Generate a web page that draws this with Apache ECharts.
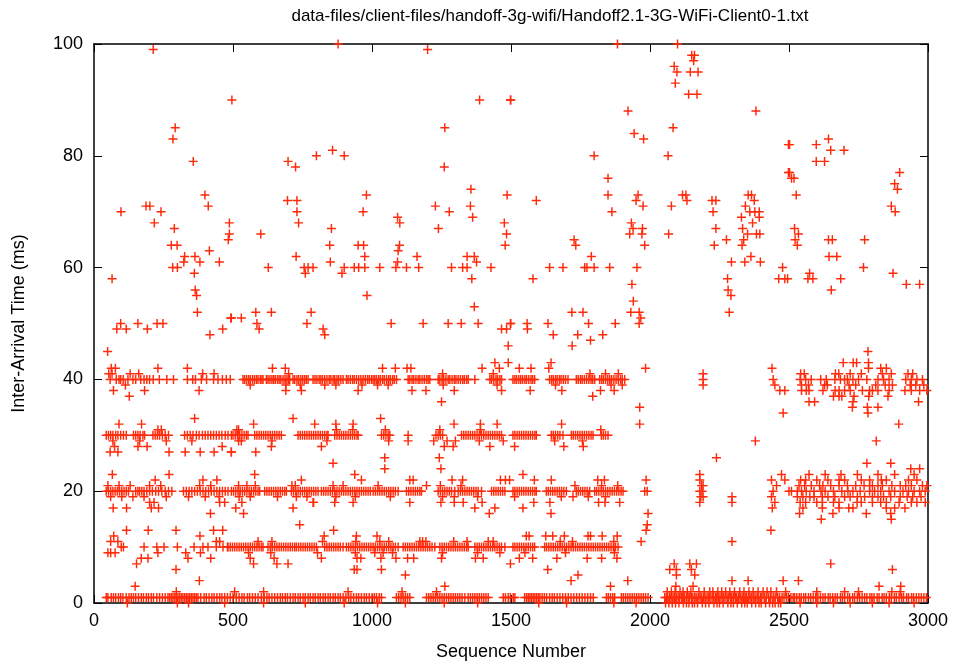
<!DOCTYPE html>
<html>
<head>
<meta charset="utf-8">
<script src="https://cdn.jsdelivr.net/npm/echarts@6/dist/echarts.min.js"></script>
<style>
html,body{margin:0;padding:0;background:#fff;}
#chart{width:956px;height:666px;}
</style>
</head>
<body>
<div id="chart"></div>
<script>
const titleText = 'data-files/client-files/handoff-3g-wifi/Handoff2.1-3G-WiFi-Client0-1.txt';
const xName = 'Sequence Number';
const yName = 'Inter-Arrival Time (ms)';
const xTicks = [0, 500, 1000, 1500, 2000, 2500, 3000];
const yTicks = [0, 20, 40, 60, 80, 100];

// sequence numbers whose inter-arrival time reads 1 ms
const lvl1X = [44,50,62,70,78,88,96,104,116,126,134,142,150,160,170,178,188,196,206,214,226,236,246,256,266,272,278,284,290,296,302,308,314,320,326,332,338,344,350,356,362,368,374,384,396,404,414,424,432,442,452,460,470,480,490,500,
512,522,532,540,552,560,570,580,590,602,612,622,630,640,650,660,670,678,688,696,706,716,724,734,742,752,760,770,778,788,796,806,814,824,832,842,850,860,868,878,886,896,906,916,924,934,944,952,962,972,980,990,1000,
1008,1016,1026,1034,1088,1096,1104,1112,1120,1128,1136,1196,1204,1212,1220,1228,1236,1244,1252,1260,1268,1276,1284,1292,1300,1308,1316,1324,1334,1346,1354,1362,1370,1378,1386,1394,1402,1410,1418,1472,1480,1490,1498,1508,
1514,1549,1556,1562,1568,1574,1580,1586,1592,1598,1604,1612,1620,1628,1639,1648,1656,1666,1676,1686,1696,1706,1716,1726,1736,1746,1756,1766,1776,1786,1796,1843,1850,1858,1866,1873,1897,1904,1912,1920,1928,1936,1944,1952,1960,1968,1976,1984,1993,
2053,2059,2064,2071,2076,2083,2088,2095,2101,2106,2113,2118,2124,2131,2137,2142,2149,2154,2161,2166,2173,2180,2185,2192,2198,2205,2210,2216,2223,2228,2235,2240,2247,2252,2259,2264,2270,2277,2282,2289,2294,2300,2307,2312,2319,2324,2331,2336,2343,2348,2355,2360,2366,2373,2378,2385,2390,2397,2402,2411,2418,2427,2434,2443,2450,2459,2466,2475,2482,2491,2498,2507,2515,
2520,2528,2537,2544,2553,2560,2570,2578,2587,2596,2604,2613,2622,2630,2641,2648,2657,2666,2674,2685,2692,2700,2711,2718,2729,2736,2746,2754,2763,2772,2780,2791,2798,2806,2817,2824,2835,2842,2850,2861,2868,2879,2886,2896,2905,2912,2923,2930,2941,2948,2958,2967,2976,2985,2994];

// sequence numbers whose inter-arrival time reads 0 ms
const lvl0X = [120,300,340,470,610,760,900,1020,1120,1260,1380,1600,1700,1870,1950,2056,2068,2080,2092,2104,2120,2131,2140,2152,2160,2171,2188,2200,2212,2230,2241,2250,2263,2280,2291,2300,2314,2330,2341,2350,2366,2380,2392,2400,2416,2430,2441,2450,2462,2470,2540,2600,2660,2720,2800,2860,2950];

// sequence numbers whose inter-arrival time reads 2 ms
const lvl2X = [296,506,610,914,1108,1232,2062,2077,2090,2108,2119,2134,2147,2176,2195,2215,2226,2244,2258,2272,2287,2304,2323,2338,2356,2371,2389,2407,2421,2435,2455,2488,2600,2700,2750,2870,2900];

// sequence numbers whose inter-arrival time reads 10 ms
const lvl10X = [98,106,180,226,252,300,360,392,410,440,464,480,490,
482,498,506,514,522,530,538,546,554,562,570,578,586,594,602,608,626,634,642,650,658,666,674,682,690,698,706,714,722,728,736,744,752,760,768,776,784,792,800,830,838,846,854,862,870,878,886,896,908,916,924,932,940,948,956,964,972,980,988,996,1004,
1012,1020,1028,1036,1044,1052,1060,1068,1076,1084,1094,1112,1120,1128,1136,1144,1152,1160,1168,1176,1184,1192,1200,1208,1216,1226,1244,1252,1260,1268,1276,1284,1292,1300,1308,1316,1324,1332,1340,1346,1370,1378,1386,1394,1402,1410,1418,1426,1434,1442,1450,1458,1466,1478,
1507,1514,1522,1530,1538,1546,1554,1562,1570,1578,1585,1621,1628,1636,1644,1652,1660,1668,1676,1684,1692,1700,1708,1716,1724,1732,1740,1748,1756,1764,1772,1780,1788,1796,1804,1812,1820,1828,1836,1844,1852,1860,1868,1876,1885];

// sequence numbers whose inter-arrival time reads 20 ms
const lvl20X = [44,52,60,68,76,84,92,100,108,116,124,150,158,164,172,180,190,200,210,222,232,244,256,268,280,322,332,342,352,362,372,382,392,402,412,422,432,442,452,462,472,482,494,
502,510,518,526,534,542,550,558,566,574,582,590,596,614,622,630,638,646,654,662,670,678,686,692,710,718,726,734,742,750,758,766,774,782,790,798,806,818,826,834,842,850,858,866,874,882,890,898,906,914,922,930,938,946,954,962,970,978,986,994,1004,
1012,1020,1028,1036,1044,1052,1060,1068,1076,1084,1094,1124,1132,1140,1148,1156,1164,1172,1178,1238,1246,1254,1262,1270,1278,1286,1298,1310,1318,1326,1334,1342,1350,1358,1366,1374,1382,1394,1430,1438,1446,1454,1462,1470,1478,
1507,1514,1522,1530,1538,1546,1554,1562,1570,1578,1586,1591,1627,1634,1642,1650,1658,1666,1674,1682,1690,1699,1735,1742,1750,1758,1766,1774,1783,1801,1808,1816,1824,1832,1840,1848,1856,1864,1872,1880,1888,1896,1903,1981,1990,
2179,2187,2443,2509,2500,2530,2545,2562,2590,2615,2630,2660,2690,2712,2730,2756,2790,2808,2830,2860,2880,2910,2930,2950,2970,2990];

// sequence numbers whose inter-arrival time reads 30 ms
const lvl30X = [44,52,60,68,78,86,96,106,116,142,150,158,166,176,182,212,220,228,236,246,256,268,326,336,346,356,368,378,390,400,410,420,430,440,450,460,472,482,494,
500,508,516,524,532,540,548,554,578,586,594,602,610,618,626,634,642,650,658,666,674,734,742,750,758,766,774,782,790,798,806,814,822,830,838,842,866,874,882,890,898,906,914,922,930,938,946,950,
1034,1042,1050,1058,1064,1130,1230,1238,1246,1254,1322,1330,1338,1346,1354,1362,1370,1378,1386,1394,1402,1410,1418,1426,1434,1442,1450,1458,1466,
1507,1514,1522,1530,1538,1546,1554,1562,1570,1578,1586,1591,1645,1652,1660,1668,1676,1687,1717,1724,1732,1740,1748,1756,1764,1772,1780,1788,1795,1825,1832,1840,1849];

// sequence numbers whose inter-arrival time reads 40 ms
const lvl40X = [58,80,90,96,105,122,140,150,168,180,190,200,213,235,262,286,336,355,365,386,405,430,446,462,476,490,
536,542,549,556,562,570,577,584,590,598,604,608,620,626,633,640,646,652,660,666,672,680,687,694,700,704,716,722,730,736,744,751,758,764,770,788,795,802,810,816,822,830,838,846,852,860,866,874,880,888,896,908,914,922,930,936,944,952,960,968,976,984,990,998,1004,
1010,1016,1024,1030,1038,1044,1052,1060,1066,1074,1080,1088,1130,1136,1144,1150,1158,1166,1172,1180,1188,1196,1202,1208,1238,1244,1252,1258,1266,1274,1280,1288,1296,1302,1310,1318,1326,1332,1340,1346,1370,1424,1430,1438,1446,1452,1460,1466,
1507,1514,1520,1528,1535,1542,1550,1556,1564,1572,1578,1585,1639,1646,1652,1660,1666,1674,1680,1688,1696,1705,1735,1742,1750,1756,1764,1772,1780,1788,1794,1801,1819,1826,1832,1840,1848,1855,1862,1870,1878,1886,1894,1900,1909,
2191,2443,2540,2560,2580,2614,2634,2665,2685,2700,2710,2730,2750,2780,2820,2840,2860,2920,2940,2960,2980];

// remaining points: [sequence number, inter-arrival ms]
const otherPts = [
[213,99],[496,90],[292,85],[284,83],[357,79],[399,73],[411,71],[97,70],[187,71],[201,71],[241,70],[217,68],[289,67],[487,68],[487,66],[483,65],[278,64],[299,64],[415,63],[326,62],[363,62],[323,61],[381,61],[451,61],[283,60],[300,60],[361,59],[65,58],[364,56],[369,55],[372,52],[494,51],[96,50],[158,50],[227,50],[248,50],[82,49],[116,49],[192,49],[463,49],[417,48],[49,45],
[878,100],[698,79],[725,78],[800,80],[858,81],[900,80],[696,72],[730,72],[730,70],[736,68],[980,73],[968,70],[600,66],[854,67],[848,64],[950,64],[970,64],[727,62],[974,62],[850,61],[627,60],[756,60],[770,60],[788,60],[900,60],[936,60],[952,60],[974,60],[760,59],[892,59],[982,55],[492,51],[530,51],[582,52],[638,52],[781,52],[586,50],[766,50],[594,49],[824,49],[830,48],
[1200,99],[1387,90],[1498,90],[1262,85],[1260,78],[1356,74],[1486,73],[1228,71],[1354,71],[1278,70],[1362,69],[1092,69],[1100,68],[1239,67],[1476,68],[1484,66],[1479,64],[1099,64],[1094,63],[1162,62],[1342,62],[1368,62],[1376,61],[1092,61],[1028,60],[1086,60],[1124,60],[1168,60],[1286,60],[1326,60],[1342,60],[1428,60],[1359,58],[1368,53],[1069,50],[1184,50],[1274,50],[1321,50],[1382,50],[1466,49],[1498,50],[1490,46],[1442,43],[1490,43],[1458,42],[1484,49],
[1883,100],[1499,90],[1921,88],[1943,84],[1977,83],[1799,80],[1849,76],[1849,73],[1957,73],[1950,72],[1975,71],[1591,72],[1863,70],[1933,68],[1939,67],[1927,66],[1973,67],[1971,66],[1981,64],[1727,65],[1733,64],[1789,62],[1639,60],[1687,60],[1765,60],[1773,60],[1799,60],[1855,60],[1953,60],[1579,58],[1935,57],[1940,54],[1719,52],[1759,52],[1931,52],[1961,52],[1967,51],[1499,50],[1633,50],[1779,50],[1875,50],[1961,50],[1559,49],[1558,50],[1652,48],[1740,48],[1830,48],[1786,47],[1720,46],
[2099,100],[2150,98],[2160,98],[2157,97],[2087,96],[2097,95],[2145,95],[2173,95],[2091,93],[2139,91],[2169,91],[2381,88],[2083,85],[2498,82],[2065,80],[2498,77],[2509,76],[2117,73],[2129,73],[2133,72],[2077,71],[2223,72],[2237,72],[2227,70],[2237,67],[2231,64],[2353,73],[2365,73],[2375,72],[2343,71],[2359,70],[2377,70],[2393,70],[2329,69],[2393,69],[2369,68],[2333,67],[2351,66],[2383,66],[2395,66],[2337,65],[2331,64],[2067,66],[2275,65],[2363,62],[2293,61],[2341,61],[2397,61],[2477,60],[2463,58],[2485,58],[2495,58],[2279,58],[2281,56],[2291,55],[2285,52],
[2502,82],[2598,82],[2642,83],[2650,81],[2698,81],[2598,79],[2628,79],[2502,77],[2518,76],[2526,73],[2898,77],[2880,75],[2890,74],[2868,71],[2882,70],[2520,67],[2534,66],[2522,65],[2530,64],[2642,65],[2656,65],[2644,62],[2672,62],[2772,65],[2768,60],[2874,59],[2574,59],[2568,58],[2586,58],[2686,58],[2652,56],[2922,57],[2970,57],
[62,42],[77,42],[230,42],[336,42],[53,41],[65,41],[130,41],[161,41],[391,41],[432,41],[113,39],[70,38],[182,38],[378,38],[127,37],
[90,32],[171,32],[362,33],[230,31],[242,31],[68,29],[164,29],[352,29],[260,29],[74,28],[158,28],[191,28],[461,28],[58,27],[86,27],[270,27],[328,27],[382,27],[432,27],[494,27],
[66,23],[270,23],[220,22],[392,22],[442,22],[50,21],[90,21],[130,21],[200,21],[240,21],[380,21],[420,21],[60,19],[100,19],[140,19],[180,19],[260,19],[340,19],[400,19],[450,19],[200,18],[216,18],[452,18],[470,18],[69,17],[117,17],[206,17],[232,17],[419,16],
[117,13],[195,13],[295,13],[430,13],[463,13],[71,12],[381,12],[60,11],[86,11],[440,11],[452,11],[50,9],[60,9],[76,9],[230,9],[330,9],[383,9],[170,8],[194,8],[338,8],[420,8],[153,7],[295,6],[379,4],[148,3],
[642,42],[688,42],[700,41],[562,39],[690,39],[742,39],[830,39],[870,39],[964,39],[690,38],[746,38],[950,38],
[716,33],[574,32],[794,32],[870,32],[932,32],[514,31],[520,31],[872,31],[930,31],[520,29],[530,29],[640,29],[838,29],[638,28],[818,28],[494,27],[582,27],[860,25],
[578,23],[938,23],[962,22],[746,22],[520,21],[550,21],[580,21],[712,21],[724,21],[860,21],[896,21],[522,19],[562,19],[660,19],[728,19],[766,19],[870,19],[940,19],[532,18],[788,18],[790,18],[866,18],[932,18],[510,17],[716,17],[538,16],[740,14],
[862,13],[828,12],[944,12],[590,11],[640,11],[822,11],[942,11],[556,9],[636,9],[804,9],[940,9],[562,8],[648,8],[818,8],[946,8],[960,8],[574,7],[658,7],[698,7],[936,6],[946,6],
[1038,42],[1084,42],[1126,42],[1140,42],[1396,42],[1254,41],[1436,41],[1020,39],[1058,39],[1256,39],[1450,39],[1144,38],[1194,38],[1296,38],[1466,38],[1250,36],
[1031,33],[1295,32],[1390,32],[1450,32],[1048,31],[1244,31],[1390,31],[1060,29],[1130,29],[1222,29],[1270,29],[1300,29],[1386,29],[1472,29],[1260,28],[1292,28],[1424,28],[1046,26],[1242,26],[1046,24],[1248,24],
[1136,22],[1148,22],[1288,22],[1326,22],[1462,22],[1480,22],[1022,21],[1196,21],[1246,21],[1320,21],[1066,19],[1254,19],[1296,19],[1380,19],[1136,18],[1248,18],[1296,18],[1328,18],[1396,18],[1370,17],[1442,17],[1422,16],
[1018,12],[1028,11],[1060,11],[1172,11],[1182,11],[1194,11],[1294,11],[1342,11],[1418,11],[1436,11],[1010,9],[1040,9],[1074,9],[1254,9],[1380,9],[1460,9],[1032,8],[1086,8],[1128,8],[1150,8],[1250,8],[1372,8],[1400,8],[1498,7],[1034,6],[1120,5],[1262,3],
[1530,42],[1572,42],[1636,42],[1644,43],[1784,41],[1840,41],[1886,41],[1984,42],[1569,38],[1683,38],[1871,38],[1794,37],[1822,38],[1860,39],[1900,39],[1660,39],[1963,35],[1963,32],
[1682,32],[1823,31],[1657,29],[1757,29],[1513,28],[1690,28],[1760,28],
[1543,23],[1495,22],[1584,22],[1645,22],[1812,22],[1836,22],[1986,22],[1730,21],[1826,21],[1884,21],[1513,19],[1681,19],[1723,19],[1778,19],[1840,19],[1582,18],[1640,18],[1815,18],[1838,18],[1891,18],[1543,17],[1644,16],[1993,16],[1990,14],
[1986,13],[1625,12],[1555,12],[1565,12],[1650,12],[1692,12],[1777,12],[1786,12],[1828,12],[1882,12],[1968,11],[1677,11],[1721,11],[1870,11],[1550,9],[1696,9],[1872,9],[1530,8],[1578,8],[1665,8],[1774,8],[1826,8],[1881,8],[1632,6],[1741,5],[1716,4],[1920,4],[1858,3],
[2191,41],[2191,39],[2439,42],[2449,39],[2467,38],[2485,38],[2479,34],[2379,29],[2239,26],
[2179,23],[2179,22],[2191,21],[2185,21],[2191,19],[2183,19],[2179,18],[2295,19],[2295,18],
[2437,22],[2473,23],[2485,22],[2455,21],[2437,19],[2449,18],[2440,17],
[2435,13],[2295,11],[2087,7],[2143,7],[2167,7],[2071,6],[2095,6],[2149,6],[2095,5],[2161,5],[2093,3],[2155,3],[2295,4],[2353,4],[2479,4],
[2784,45],[2695,43],[2731,43],[2743,43],[2786,43],[2786,42],[2830,42],[2850,42],
[2542,41],[2555,41],[2667,41],[2679,41],[2720,41],[2760,41],[2836,41],[2868,41],[2928,41],[2945,41],
[2545,39],[2570,39],[2628,39],[2638,39],[2716,39],[2740,39],[2812,39],[2846,39],[2872,39],[2936,39],[2956,39],[2985,39],
[2545,38],[2562,38],[2572,38],[2622,38],[2666,38],[2680,38],[2700,38],[2720,38],[2764,38],[2790,38],[2800,38],[2820,38],[2860,38],[2917,38],[2940,38],[2970,38],[2996,38],
[2660,37],[2680,37],[2690,37],[2734,37],[2787,37],[2856,37],[2572,36],[2592,36],[2730,36],[2966,36],[2728,35],[2782,35],[2820,35],[2784,34],
[2895,32],[2814,29],[2780,25],[2866,25],[2970,24],[2938,24],
[2572,23],[2630,23],[2687,23],[2746,23],[2820,23],[2880,23],[2950,23],
[2542,22],[2560,22],[2600,22],[2640,22],[2680,22],[2700,22],[2760,22],[2790,22],[2832,22],[2850,22],[2930,22],[2960,22],
[2536,21],[2556,21],[2580,21],[2610,21],[2622,21],[2650,21],[2680,21],[2710,21],[2740,21],[2770,21],[2790,21],[2800,21],[2820,21],[2836,21],[2870,21],[2900,21],[2920,21],[2940,21],[2980,21],[2996,21],
[2530,19],[2550,19],[2575,19],[2590,19],[2620,19],[2640,19],[2665,19],[2700,19],[2720,19],[2746,19],[2772,19],[2800,19],[2820,19],[2840,19],[2866,19],[2900,19],[2925,19],[2945,19],[2975,19],
[2540,18],[2560,18],[2600,18],[2620,18],[2660,18],[2680,18],[2745,18],[2760,18],[2800,18],[2830,18],[2850,18],[2896,18],[2940,18],[2960,18],[2990,18],
[2550,17],[2620,17],[2680,17],[2715,17],[2730,17],[2850,17],[2880,17],[2917,17],[2538,16],[2658,16],[2778,16],[2866,16],[2616,15],[2868,15],
[2650,7],[2872,6],[2534,4],[2824,3],[2902,3]
];

const points = [];
lvl1X.forEach(x => points.push([x, 1]));
lvl0X.forEach(x => points.push([x, 0]));
lvl2X.forEach(x => points.push([x, 2]));
lvl10X.forEach(x => points.push([x, 10]));
lvl20X.forEach(x => points.push([x, 20]));
lvl30X.forEach(x => points.push([x, 30]));
lvl40X.forEach(x => points.push([x, 40]));
otherPts.forEach(p => points.push(p));

const FONT = "'Liberation Sans', Arial, Helvetica, sans-serif";
const plus = 'path://M3.35,0H4.65V3.35H8V4.65H4.65V8H3.35V4.65H0V3.35H3.35Z';

const chart = echarts.init(document.getElementById('chart'), null, {renderer: 'canvas'});
const tickStyle = {show: true, inside: true, length: 8, lineStyle: {color: '#000', width: 1}};
const lineStyle = {show: true, onZero: false, lineStyle: {color: '#000', width: 1.5}};
const plain = v => String(v);
chart.setOption({
  animation: false,
  backgroundColor: '#fff',
  grid: {left: 94, right: 28, top: 44, bottom: 63, show: false},
  graphic: [{
    type: 'text', x: 550, y: 16,
    style: {text: titleText, font: "17px " + FONT, fill: '#000', align: 'center', verticalAlign: 'middle'}
  }],
  xAxis: [{
    type: 'value', min: xTicks[0], max: xTicks[xTicks.length - 1], interval: xTicks[1] - xTicks[0],
    position: 'bottom', name: xName, nameLocation: 'middle', nameGap: 40,
    nameTextStyle: {fontFamily: FONT, fontSize: 18, color: '#000'},
    axisLine: lineStyle, axisTick: tickStyle, splitLine: {show: false},
    axisLabel: {fontFamily: FONT, fontSize: 18, color: '#000', margin: 9, formatter: plain}
  }, {
    type: 'value', min: xTicks[0], max: xTicks[xTicks.length - 1], interval: xTicks[1] - xTicks[0],
    position: 'top', axisLine: lineStyle, axisTick: tickStyle, splitLine: {show: false},
    axisLabel: {show: false}
  }],
  yAxis: [{
    type: 'value', min: yTicks[0], max: yTicks[yTicks.length - 1], interval: yTicks[1] - yTicks[0],
    position: 'left', name: yName, nameLocation: 'middle', nameGap: 66, nameRotate: 90,
    nameTextStyle: {fontFamily: FONT, fontSize: 18, color: '#000'},
    axisLine: lineStyle, axisTick: tickStyle, splitLine: {show: false},
    axisLabel: {fontFamily: FONT, fontSize: 18, color: '#000', margin: 11, formatter: plain}
  }, {
    type: 'value', min: yTicks[0], max: yTicks[yTicks.length - 1], interval: yTicks[1] - yTicks[0],
    position: 'right', axisLine: lineStyle, axisTick: tickStyle, splitLine: {show: false},
    axisLabel: {show: false}
  }],
  series: [{
    type: 'scatter', xAxisIndex: 0, yAxisIndex: 0,
    symbol: plus, symbolSize: 9, clip: false,
    itemStyle: {color: '#ff2a0a', opacity: 1},
    data: points
  }]
});
</script>
</body>
</html>
